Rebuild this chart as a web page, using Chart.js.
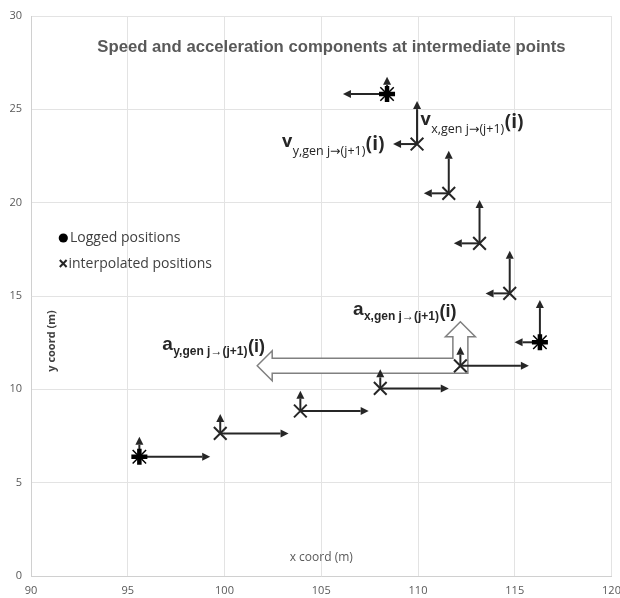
<!DOCTYPE html>
<html>
<head>
<meta charset="utf-8">
<title>Speed and acceleration components at intermediate points</title>
<script src="https://cdn.jsdelivr.net/npm/chart.js@4.4.1/dist/chart.umd.min.js"></script>
<style>
  html, body { margin: 0; padding: 0; background: #fff; overflow: hidden; }
  #wrap { width: 620px; height: 598px; overflow: hidden; }
</style>
</head>
<body>
<div id="wrap"><canvas id="chart" width="624" height="598"></canvas></div>
<script>
// Logged positions (m) and their speed components (arrow lengths, m)
const loggedX = [95.6, 116.3, 108.4];
const loggedY = [6.39, 12.52, 25.82];
const loggedVx = [3.66, -1.31, -2.28];
const loggedVy = [1.07, 2.26, 0.92];

// Interpolated positions (m) and their speed components
const interpX = [99.78, 103.92, 108.05, 112.19, 114.74, 113.18, 111.59, 109.95];
const interpY = [7.64, 8.84, 10.05, 11.26, 15.14, 17.82, 20.5, 23.14];
const interpVx = [3.53, 3.53, 3.54, 3.54, -1.25, -1.33, -1.29, -1.24];
const interpVy = [1.04, 1.09, 1.02, 1.02, 2.28, 2.32, 2.28, 2.3];

// Acceleration components shown at one interpolated point
const accelPoint = 3;
const accelX = -10.5;
const accelY = 2.36;

// Axis ticks
const xTicks = [90, 95, 100, 105, 110, 115, 120];
const yTicks = [0, 5, 10, 15, 20, 25, 30];

const INK = '#262626';
const GREY = '#595959';

function toXY(xs, ys) {
  return xs.map((x, i) => ({ x: x, y: ys[i] }));
}

// Small line arrow with a filled head
function arrow(ctx, x0, y0, x1, y1, head) {
  const ang = Math.atan2(y1 - y0, x1 - x0);
  const bx = x1 - Math.cos(ang) * head;
  const by = y1 - Math.sin(ang) * head;
  const w = head * 0.5;
  ctx.beginPath();
  ctx.moveTo(x0, y0);
  ctx.lineTo(bx, by);
  ctx.stroke();
  ctx.beginPath();
  ctx.moveTo(x1, y1);
  ctx.lineTo(bx + Math.sin(ang) * w, by - Math.cos(ang) * w);
  ctx.lineTo(bx - Math.sin(ang) * w, by + Math.cos(ang) * w);
  ctx.closePath();
  ctx.fill();
}

// Text with a subscript and a trailing "(i)"
function subLabel(ctx, x, y, main, sub, mainFont, subFont, tailFont, subDy, tailDy) {
  ctx.textAlign = 'left';
  ctx.textBaseline = 'alphabetic';
  ctx.font = mainFont;
  ctx.fillText(main, x, y);
  x += ctx.measureText(main).width + 0.5;
  ctx.font = subFont;
  ctx.fillText(sub, x, y + subDy);
  x += ctx.measureText(sub).width + 0.5;
  ctx.font = tailFont;
  ctx.fillText('(i)', x, y + tailDy);
  return x + ctx.measureText('(i)').width;
}

function labelWidth(ctx, main, sub, mainFont, subFont, tailFont) {
  ctx.font = mainFont;
  let w = ctx.measureText(main).width + 0.5;
  ctx.font = subFont;
  w += ctx.measureText(sub).width + 0.5;
  ctx.font = tailFont;
  return w + ctx.measureText('(i)').width;
}

const vectorPlugin = {
  id: 'vectors',
  beforeDatasetsDraw(chart) {
    const ctx = chart.ctx;
    const sx = chart.scales.x;
    const sy = chart.scales.y;

    // Hollow bent block arrow for the acceleration components
    const px = sx.getPixelForValue(interpX[accelPoint]);
    const py = sy.getPixelForValue(interpY[accelPoint]);
    const tipH = sx.getPixelForValue(interpX[accelPoint] + accelX);
    const tipV = sy.getPixelForValue(interpY[accelPoint] + accelY);
    const hw = 7.5, hh = 15, hl = 15;
    ctx.save();
    ctx.beginPath();
    ctx.moveTo(tipH, py);
    ctx.lineTo(tipH + hl, py - hh);
    ctx.lineTo(tipH + hl, py - hw);
    ctx.lineTo(px - hw, py - hw);
    ctx.lineTo(px - hw, tipV + hl);
    ctx.lineTo(px - hh, tipV + hl);
    ctx.lineTo(px, tipV);
    ctx.lineTo(px + hh, tipV + hl);
    ctx.lineTo(px + hw, tipV + hl);
    ctx.lineTo(px + hw, py + hw);
    ctx.lineTo(tipH + hl, py + hw);
    ctx.lineTo(tipH + hl, py + hh);
    ctx.closePath();
    ctx.fillStyle = '#ffffff';
    ctx.fill();
    ctx.strokeStyle = '#808080';
    ctx.lineWidth = 1.5;
    ctx.lineJoin = 'miter';
    ctx.stroke();

    // Speed component arrows
    ctx.strokeStyle = INK;
    ctx.fillStyle = INK;
    ctx.lineWidth = 2;
    const drawSet = (xs, ys, vxs, vys) => {
      xs.forEach((x, i) => {
        const x0 = sx.getPixelForValue(x);
        const y0 = sy.getPixelForValue(ys[i]);
        arrow(ctx, x0, y0, sx.getPixelForValue(x + vxs[i]), y0, 8);
        arrow(ctx, x0, y0, x0, sy.getPixelForValue(ys[i] + vys[i]), 8);
      });
    };
    drawSet(loggedX, loggedY, loggedVx, loggedVy);
    drawSet(interpX, interpY, interpVx, interpVy);
    ctx.restore();
  },
  afterDraw(chart) {
    const ctx = chart.ctx;
    const sx = chart.scales.x;
    const sy = chart.scales.y;
    const area = chart.chartArea;
    ctx.save();

    // Title inside the plot area
    ctx.fillStyle = GREY;
    ctx.font = 'bold 16.7px "Liberation Sans", Arial, sans-serif';
    ctx.textAlign = 'center';
    ctx.textBaseline = 'middle';
    ctx.fillText('Speed and acceleration components at intermediate points', 331.5, 47);

    // Axis titles
    ctx.font = '12px "Open Sans", sans-serif';
    ctx.fillText('x coord (m)', sx.getPixelForValue(105), area.bottom - 18);
    ctx.save();
    ctx.translate(area.left + 21, 341);
    ctx.rotate(-Math.PI / 2);
    ctx.fillStyle = '#404040';
    ctx.font = 'bold 11px "Open Sans", sans-serif';
    ctx.fillText('y coord (m)', 0, 0);
    ctx.restore();

    // Legend
    ctx.fillStyle = '#000';
    ctx.beginPath();
    ctx.arc(63.3, 238, 4.6, 0, Math.PI * 2);
    ctx.fill();
    ctx.strokeStyle = INK;
    ctx.lineWidth = 2;
    ctx.beginPath();
    ctx.moveTo(59.8, 260); ctx.lineTo(66.6, 267);
    ctx.moveTo(66.6, 260); ctx.lineTo(59.8, 267);
    ctx.stroke();
    ctx.fillStyle = '#404040';
    ctx.font = '14px "Open Sans", sans-serif';
    ctx.textAlign = 'left';
    ctx.fillText('Logged positions', 70, 238);
    ctx.fillText('interpolated positions', 68.5, 264);

    // Vector labels
    ctx.fillStyle = INK;
    const vMain = 'bold 18px "Open Sans", sans-serif';
    const vSub = '12.5px "Open Sans", "DejaVu Sans", sans-serif';
    const vTail = 'bold 19px "Open Sans", sans-serif';
    const topI = interpX.length - 1;
    const tx = sx.getPixelForValue(interpX[topI]);
    const ty = sy.getPixelForValue(interpY[topI]);
    subLabel(ctx, tx + 3.5, ty - 19, 'v', 'x,gen j\u2192(j+1)', vMain, vSub, vTail, 8, 3);
    const wy = labelWidth(ctx, 'v', 'y,gen j\u2192(j+1)', vMain, vSub, vTail);
    subLabel(ctx, tx - 32.5 - wy, ty + 3, 'v', 'y,gen j\u2192(j+1)', vMain, vSub, vTail, 8, 3);

    const aMain = 'bold 19px "Liberation Sans", Arial, sans-serif';
    const aSub = 'bold 12px "Liberation Sans", Arial, sans-serif';
    const aTail = 'bold 18px "Liberation Sans", Arial, sans-serif';
    const ax = sx.getPixelForValue(interpX[accelPoint]);
    const ay = sy.getPixelForValue(interpY[accelPoint]);
    const tipH = sx.getPixelForValue(interpX[accelPoint] + accelX);
    subLabel(ctx, ax - 107.5, ay - 51, 'a', 'x,gen j\u2192(j+1)', aMain, aSub, aTail, 5, 2);
    subLabel(ctx, tipH - 95, ay - 16, 'a', 'y,gen j\u2192(j+1)', aMain, aSub, aTail, 5, 2);

    ctx.restore();
  }
};

new Chart(document.getElementById('chart'), {
  type: 'scatter',
  data: {
    datasets: [
      {
        label: 'Logged positions',
        data: toXY(loggedX, loggedY),
        pointStyle: 'cross',
        pointRadius: 8,
        borderWidth: 4.5,
        borderColor: '#000',
        backgroundColor: '#000'
      },
      {
        label: 'Logged positions (diagonals)',
        data: toXY(loggedX, loggedY),
        pointStyle: 'crossRot',
        pointRadius: 9.5,
        borderWidth: 1.5,
        borderColor: '#000',
        backgroundColor: '#000'
      },
      {
        label: 'interpolated positions',
        data: toXY(interpX, interpY),
        pointStyle: 'crossRot',
        pointRadius: 9,
        borderWidth: 2,
        borderColor: INK,
        backgroundColor: INK
      }
    ]
  },
  options: {
    responsive: false,
    animation: false,
    events: [],
    layout: { padding: { left: 0, right: 4, top: 16, bottom: 0 } },
    plugins: {
      legend: { display: false },
      title: { display: false },
      tooltip: { enabled: false }
    },
    scales: {
      x: {
        type: 'linear',
        min: xTicks[0],
        max: xTicks[xTicks.length - 1],
        afterBuildTicks: (s) => { s.ticks = xTicks.map((v) => ({ value: v })); },
        afterFit: (s) => { s.height = 22; s.paddingLeft = 0; s.paddingRight = 0; },
        grid: { color: '#e3e3e3', drawTicks: false },
        border: { color: '#d0d0d0' },
        ticks: { padding: 8, color: GREY, font: { family: '"Open Sans", sans-serif', size: 11 } }
      },
      y: {
        type: 'linear',
        min: yTicks[0],
        max: yTicks[yTicks.length - 1],
        afterBuildTicks: (s) => { s.ticks = yTicks.map((v) => ({ value: v })); },
        afterFit: (s) => { s.width = 31; s.paddingTop = 0; s.paddingBottom = 0; },
        grid: { color: '#e3e3e3', drawTicks: false },
        border: { color: '#d0d0d0' },
        ticks: { padding: 9, color: GREY, font: { family: '"Open Sans", sans-serif', size: 11 } }
      }
    }
  },
  plugins: [vectorPlugin]
});
</script>
</body>
</html>
